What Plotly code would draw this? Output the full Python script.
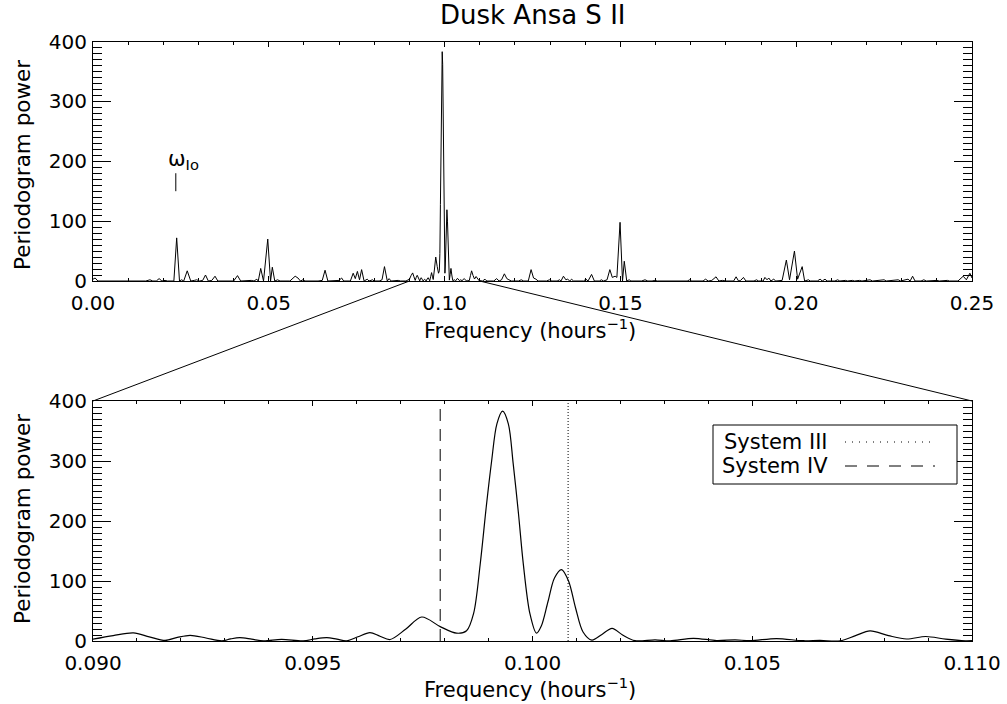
import plotly.graph_objects as go

# ---------------- data ----------------
TITLE = "Dusk Ansa S II"
Y_TITLE = "Periodogram power"
X_TITLE = "Frequency (hours<sup>\u22121</sup>)"

# Full periodogram, 0.00 - 0.09 hr^-1
FREQ_LOW = [0.0000, 0.0006, 0.0014, 0.0150, 0.0162, 0.0170, 0.0180, 0.0188, 0.0196, 0.0205,
            0.0212, 0.0230, 0.0238, 0.0246, 0.0252, 0.0258, 0.0268, 0.0278, 0.0288, 0.0295,
            0.0303, 0.0312, 0.0320, 0.0328, 0.0338, 0.0347, 0.0355, 0.0380, 0.0390, 0.0400,
            0.0411, 0.0420, 0.0450, 0.0458, 0.0466, 0.0470, 0.0477, 0.0485, 0.0497, 0.0505,
            0.0510, 0.0517, 0.0525, 0.0532, 0.0560, 0.0568, 0.0575, 0.0583, 0.0590, 0.0597,
            0.0603, 0.0640, 0.0652, 0.0660, 0.0668, 0.0700, 0.0707, 0.0713, 0.0732, 0.0740,
            0.0746, 0.0752, 0.0758, 0.0764, 0.0771, 0.0780, 0.0785, 0.0795, 0.0800, 0.0814,
            0.0822, 0.0829, 0.0837, 0.0842, 0.0848, 0.0868, 0.0875, 0.0890, 0.0895]
POWER_LOW = [3, 5, 0, 0, 2, 0, 0, 4, 0, 1,
             0, 0, 72, 0, 2, 0, 17, 0, 1, 2,
             0, 1, 10, 0, 1, 8, 0, 0, 1, 0,
             9, 0, 1, 0, 3, 0, 21, 0, 70, 0,
             23, 0, 2, 0, 0, 5, 8, 5, 0, 2,
             0, 0, 1, 18, 0, 1, 5, 0, 0, 13,
             4, 16, 2, 19, 0, 3, 0, 2, 0, 0,
             2, 24, 0, 4, 0, 1, 0, 0, 2]

# Zoomed region, 0.090 - 0.110 hr^-1
FREQ_ZOOM = [0.09000, 0.09046, 0.09092, 0.09128, 0.09164, 0.09192, 0.09221, 0.09257, 0.09293, 0.09313,
             0.09334, 0.09361, 0.09388, 0.09429, 0.09478, 0.09505, 0.09532, 0.09555, 0.09577, 0.09603,
             0.09630, 0.09653, 0.09676, 0.09712, 0.09748, 0.09790, 0.09827, 0.09850, 0.09866, 0.09881,
             0.09895, 0.09907, 0.09919, 0.09932, 0.09945, 0.09956, 0.09968, 0.09979, 0.09994, 0.10009,
             0.10020, 0.10035, 0.10050, 0.10066, 0.10082, 0.10098, 0.10115, 0.10135, 0.10158, 0.10181,
             0.10205, 0.10233, 0.10279, 0.10313, 0.10366, 0.10419, 0.10461, 0.10495, 0.10555, 0.10616,
             0.10654, 0.10700, 0.10735, 0.10768, 0.10810, 0.10851, 0.10895, 0.10940, 0.10985, 0.11000]
POWER_ZOOM = [3, 9, 13.5, 7, 1, 6, 9.5, 5, 0.2, 3.5,
              5.5, 3, 0.2, 2.8, 0.2, 3.5, 5.5, 3, 0.3, 7,
              14, 8, 2.5, 20, 40, 24, 13, 17, 46, 128,
              225, 300, 362, 383, 362, 296, 213, 129, 46, 13,
              25, 65, 105, 119, 100, 55, 15, 1.5, 11, 21,
              10, 0.5, 2, 0.3, 4.5, 0.8, 2, 0.5, 4, 0.5,
              1, 0.3, 9, 17, 9, 3.3, 7.5, 3, 0.3, 0.5]

# Full periodogram, 0.11 - 0.25 hr^-1
FREQ_HIGH = [0.1108, 0.1115, 0.1120, 0.1140, 0.1148, 0.1155, 0.1162, 0.1170, 0.1177, 0.1183,
             0.1190, 0.1210, 0.1218, 0.1225, 0.1238, 0.1246, 0.1253, 0.1260, 0.1266, 0.1290,
             0.1298, 0.1305, 0.1320, 0.1327, 0.1331, 0.1338, 0.1345, 0.1350, 0.1356, 0.1361,
             0.1367, 0.1395, 0.1402, 0.1408, 0.1418, 0.1426, 0.1440, 0.1446, 0.1452, 0.1462,
             0.1470, 0.1477, 0.1485, 0.1490, 0.1499, 0.1506, 0.1511, 0.1518, 0.1525, 0.1530,
             0.1560, 0.1570, 0.1578, 0.1590, 0.1598, 0.1605, 0.1630, 0.1650, 0.1660, 0.1690,
             0.1697, 0.1703, 0.1735, 0.1742, 0.1750, 0.1760, 0.1772, 0.1780, 0.1790, 0.1800,
             0.1822, 0.1829, 0.1836, 0.1842, 0.1850, 0.1857, 0.1880, 0.1887, 0.1893, 0.1906,
             0.1911, 0.1917, 0.1922, 0.1928, 0.1936, 0.1942, 0.1960, 0.1972, 0.1981, 0.1995,
             0.2004, 0.2017, 0.2024, 0.2035, 0.2040, 0.2060, 0.2068, 0.2074, 0.2082, 0.2088,
             0.2110, 0.2118, 0.2124, 0.2140, 0.2146, 0.2160, 0.2166, 0.2180, 0.2187, 0.2210,
             0.2217, 0.2250, 0.2256, 0.2290, 0.2297, 0.2318, 0.2324, 0.2331, 0.2338, 0.2355,
             0.2363, 0.2370, 0.2400, 0.2407, 0.2430, 0.2436, 0.2460, 0.2475, 0.2484, 0.2494,
             0.2500]
POWER_HIGH = [0, 3, 0, 0, 4, 0, 2, 12, 4, 2,
              0, 0, 2, 0, 0, 19, 5, 3, 0, 0,
              2, 0, 0, 2, 0, 8, 2, 3, 0, 3,
              0, 0, 3, 0, 11, 0, 0, 2, 0, 2,
              19, 6, 8, 6, 98, 0, 33, 0, 2, 0,
              0, 2, 0, 0, 1, 0, 0, 1, 0, 0,
              2, 0, 0, 3, 0, 1, 7, 0, 1, 0,
              0, 7, 0, 1, 6, 0, 0, 2, 0, 0,
              6, 2, 5, 0, 3, 0, 1, 35, 2, 50,
              3, 24, 0, 2, 0, 0, 3, 0, 3, 0,
              0, 2, 0, 1, 0, 1, 0, 1, 0, 2,
              0, 2, 0, 2, 0, 3, 0, 8, 0, 0,
              2, 0, 1, 0, 1, 0, 0, 8, 2, 13,
              5]

IO_FREQ = 0.02355          # omega_Io marker
IO_MARK = [150, 180]       # marker extent in power units
SYS3_FREQ = 0.10081        # System III
SYS4_FREQ = 0.09790        # System IV
LEGEND_NAMES = ["System III", "System IV"]

TOP_XRANGE = [0.0, 0.25]
ZOOM_XRANGE = [FREQ_ZOOM[0], FREQ_ZOOM[-1]]
YRANGE = [0, 400]

# ---------------- layout helpers ----------------
W, H = 1007, 704
FONT = "DejaVu Sans"


def px(x):
    return x / W


def py(y):
    return 1 - y / H


X_DOM = [px(93), px(972)]
Y1_DOM = [py(281), py(41.5)]
Y2_DOM = [py(641), py(401)]

freq_all = FREQ_LOW + FREQ_ZOOM + FREQ_HIGH
power_all = POWER_LOW + POWER_ZOOM + POWER_HIGH

fig = go.Figure()
fig.add_trace(go.Scatter(x=freq_all, y=power_all, mode="lines",
                         line=dict(color="black", width=1),
                         xaxis="x", yaxis="y", showlegend=False, hoverinfo="skip"))
fig.add_trace(go.Scatter(x=FREQ_ZOOM, y=POWER_ZOOM, mode="lines",
                         line=dict(color="black", width=1.2, shape="spline", smoothing=0.9),
                         xaxis="x2", yaxis="y2", showlegend=False, hoverinfo="skip"))


def xaxis_cfg(rng, dtick, minor_dtick, fmt, anchor):
    return dict(domain=X_DOM, range=rng, anchor=anchor, tickmode="linear", tick0=rng[0],
                dtick=dtick, tickformat=fmt, ticks="inside", ticklen=5, tickwidth=1,
                tickcolor="black", showline=True, linecolor="black", linewidth=1,
                mirror="ticks", showgrid=False, zeroline=False,
                tickfont=dict(family=FONT, size=20, color="black"),
                ticklabelstandoff=4,
                minor=dict(ticks="inside", ticklen=3, dtick=minor_dtick, tick0=rng[0],
                           tickcolor="black", tickwidth=1, showgrid=False))


def yaxis_cfg(dom, anchor):
    return dict(domain=dom, range=YRANGE, anchor=anchor, tickmode="linear", tick0=0,
                dtick=100, ticks="inside", ticklen=18, tickwidth=1, tickcolor="black",
                showline=True, linecolor="black", linewidth=1, mirror="ticks",
                showgrid=False, zeroline=False,
                tickfont=dict(family=FONT, size=20, color="black"),
                ticklabelstandoff=1,
                minor=dict(ticks="inside", ticklen=9, dtick=10, tick0=0,
                           tickcolor="black", tickwidth=1, showgrid=False))


shapes = [
    # zoom connector lines (top-axis coordinates; 0 and 0.25 sit at the bottom panel corners)
    dict(type="line", xref="x", yref="paper", x0=ZOOM_XRANGE[0], y0=Y1_DOM[0],
         x1=TOP_XRANGE[0], y1=Y2_DOM[1], line=dict(color="black", width=1)),
    dict(type="line", xref="x", yref="paper", x0=ZOOM_XRANGE[1], y0=Y1_DOM[0],
         x1=TOP_XRANGE[1], y1=Y2_DOM[1], line=dict(color="black", width=1)),
    # omega_Io marker
    dict(type="line", xref="x", yref="y", x0=IO_FREQ, x1=IO_FREQ, y0=IO_MARK[0], y1=IO_MARK[1],
         line=dict(color="black", width=1)),
    # System III / IV
    dict(type="line", xref="x2", yref="y2 domain", x0=SYS3_FREQ, x1=SYS3_FREQ, y0=0, y1=1,
         line=dict(color="black", width=1, dash="1px,2px")),
    dict(type="line", xref="x2", yref="y2 domain", x0=SYS4_FREQ, x1=SYS4_FREQ, y0=0, y1=1,
         line=dict(color="black", width=1, dash="12px,8px")),
    # legend box
    dict(type="rect", xref="paper", yref="paper", x0=px(713), x1=px(957), y0=py(484), y1=py(425),
         line=dict(color="black", width=1), fillcolor="white"),
    dict(type="line", xref="paper", yref="paper", x0=px(845), x1=px(935), y0=py(442), y1=py(442),
         line=dict(color="black", width=1, dash="1px,6px")),
    dict(type="line", xref="paper", yref="paper", x0=px(845), x1=px(935), y0=py(466), y1=py(466),
         line=dict(color="black", width=1, dash="12px,10px")),
]

annotations = [
    dict(text=TITLE, xref="paper", yref="paper", x=px(532), y=py(15), xanchor="center",
         yanchor="middle", showarrow=False, font=dict(family=FONT, size=26, color="black")),
    dict(text=Y_TITLE, xref="paper", yref="paper", x=px(22), y=py(165), xanchor="center",
         yanchor="middle", textangle=-90, showarrow=False,
         font=dict(family=FONT, size=21.5, color="black")),
    dict(text=Y_TITLE, xref="paper", yref="paper", x=px(22), y=py(519), xanchor="center",
         yanchor="middle", textangle=-90, showarrow=False,
         font=dict(family=FONT, size=21.5, color="black")),
    dict(text=X_TITLE, xref="paper", yref="paper", x=px(530), y=py(329), xanchor="center",
         yanchor="middle", showarrow=False, font=dict(family=FONT, size=21, color="black")),
    dict(text=X_TITLE, xref="paper", yref="paper", x=px(530), y=py(688), xanchor="center",
         yanchor="middle", showarrow=False, font=dict(family=FONT, size=21, color="black")),
    dict(text="\u03c9<sub>Io</sub>", xref="x", yref="y", x=IO_FREQ, y=IO_MARK[1],
         xanchor="left", yanchor="bottom", xshift=-10, yshift=-2, showarrow=False,
         font=dict(family=FONT, size=21, color="black")),
    dict(text=LEGEND_NAMES[0], xref="paper", yref="paper", x=px(830), y=py(442),
         xanchor="right", yanchor="middle", showarrow=False,
         font=dict(family=FONT, size=21, color="black")),
    dict(text=LEGEND_NAMES[1], xref="paper", yref="paper", x=px(830), y=py(466),
         xanchor="right", yanchor="middle", showarrow=False,
         font=dict(family=FONT, size=21, color="black")),
]

fig.update_layout(
    width=W, height=H,
    margin=dict(l=0, r=0, t=0, b=0, autoexpand=False),
    paper_bgcolor="white", plot_bgcolor="white",
    showlegend=False,
    xaxis=xaxis_cfg(TOP_XRANGE, 0.05, 0.01, ".2f", "y"),
    yaxis=yaxis_cfg(Y1_DOM, "x"),
    xaxis2=xaxis_cfg(ZOOM_XRANGE, 0.005, 0.001, ".3f", "y2"),
    yaxis2=yaxis_cfg(Y2_DOM, "x2"),
    shapes=shapes,
    annotations=annotations,
)

# remove the default 8px page margin so the figure sits at the window origin
fig.write_html("out.html", config={"displayModeBar": False},
               post_script="document.body.style.margin='0px';")
